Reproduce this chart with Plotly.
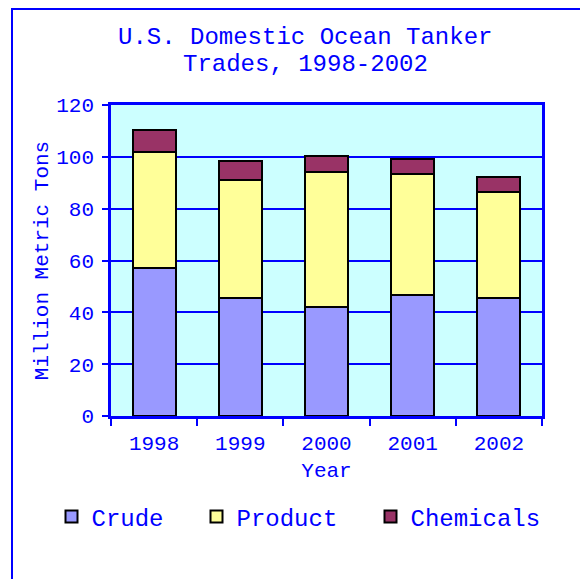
import plotly.graph_objects as go

years = ["1998", "1999", "2000", "2001", "2002"]
crude = [57.0, 45.7, 42.1, 46.5, 45.6]
product = [45.0, 45.3, 51.9, 47.0, 40.9]
chemicals = [8.3, 7.5, 6.4, 5.5, 5.6]
y_ticks = [0, 20, 40, 60, 80, 100, 120]
title_lines = ["U.S. Domestic Ocean Tanker", "Trades, 1998-2002"]

BLUE = "#0000FF"
FONT = "Liberation Mono, Courier New, monospace"

fig = go.Figure()
fig.add_trace(go.Bar(x=years, y=crude, name="Crude", marker=dict(color="#9999FF", line=dict(color="black", width=2)), legend="legend"))
fig.add_trace(go.Bar(x=years, y=product, name="Product", marker=dict(color="#FFFF99", line=dict(color="black", width=2)), legend="legend2"))
fig.add_trace(go.Bar(x=years, y=chemicals, name="Chemicals", marker=dict(color="#993366", line=dict(color="black", width=2)), legend="legend3"))

# page body has an 8px margin; figure is sized to fit the 588x579 window
OFF = 8
W, H = 588 - OFF, 579 - OFF
L, R, T, B = 111 - OFF, 46, 105 - OFF, 163
pw, ph = W - L - R, H - T - B

def px(x):
    return (x - OFF - L) / pw

def py(y):
    return (H - B - (y - OFF)) / ph

legend_common = dict(orientation="h", yanchor="middle", xanchor="left", font=dict(family=FONT, size=24, color=BLUE),
                     bgcolor="rgba(0,0,0,0)", borderwidth=0, visible=True)

annotations = [
    dict(text=title_lines[0], xref="paper", yref="paper", x=px(305), y=py(38), xanchor="center", yanchor="middle",
         showarrow=False, font=dict(family=FONT, size=24, color=BLUE)),
    dict(text=title_lines[1], xref="paper", yref="paper", x=px(305), y=py(64.5), xanchor="center", yanchor="middle",
         showarrow=False, font=dict(family=FONT, size=24, color=BLUE)),
]

fig.update_layout(
    width=W, height=H,
    margin=dict(l=L, r=R, t=T, b=B),
    paper_bgcolor="white",
    plot_bgcolor="#CCFFFF",
    barmode="stack",
    bargap=0.5,
    showlegend=True,
    font=dict(family=FONT, color=BLUE, size=21),
    annotations=annotations,
    xaxis=dict(type="category", showline=True, linecolor=BLUE, linewidth=2.5, mirror=True,
               ticks="outside", tickson="boundaries", ticklen=7, tickwidth=2, tickcolor=BLUE,
               showgrid=False, tickfont=dict(family=FONT, size=21, color=BLUE), ticklabelstandoff=6,
               title=dict(text="Year", font=dict(family=FONT, size=21, color=BLUE), standoff=8)),
    yaxis=dict(range=[0, 120], tickvals=y_ticks, showline=True, linecolor=BLUE, linewidth=2.5, mirror=True,
               ticks="outside", ticklen=6, tickwidth=2, tickcolor=BLUE,
               showgrid=True, gridcolor=BLUE, gridwidth=2, zeroline=False,
               tickfont=dict(family=FONT, size=21, color=BLUE), ticklabelstandoff=4,
               title=dict(text="Million Metric Tons", font=dict(family=FONT, size=21, color=BLUE), standoff=2)),
    legend=dict(x=px(51.5), y=py(517), **legend_common),
    legend2=dict(x=px(196.5), y=py(517), **legend_common),
    legend3=dict(x=px(370.5), y=py(517), **legend_common),
    shapes=[dict(type="rect", xref="paper", yref="paper", x0=px(12), x1=px(640), y0=py(640), y1=py(9),
                 line=dict(color=BLUE, width=2), fillcolor="rgba(0,0,0,0)", layer="above")],
)

fig.write_html("out.html")
